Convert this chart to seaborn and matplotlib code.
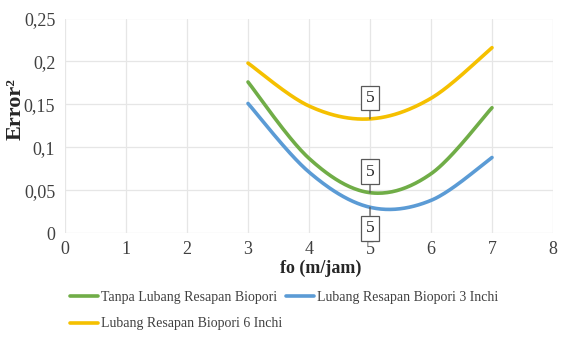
import numpy as np
import pandas as pd
import matplotlib
matplotlib.use("Agg")
import matplotlib.pyplot as plt
import seaborn as sns
from matplotlib.ticker import FuncFormatter, MultipleLocator
from matplotlib.lines import Line2D

# ---- data ----
fo = [3, 4, 5, 6, 7]
tanpa = [0.176, 0.087, 0.047, 0.069, 0.146]
lrb3 = [0.151, 0.071, 0.030, 0.038, 0.088]
lrb6 = [0.198, 0.148, 0.133, 0.157, 0.216]
series_names = ["Tanpa Lubang Resapan Biopori",
                "Lubang Resapan Biopori 3 Inchi",
                "Lubang Resapan Biopori 6 Inchi"]
colors = ["#70AD47", "#5B9BD5", "#F5C000"]
label_x = 5

sns.set_theme(style="white")
plt.rcParams['font.family'] = ['Liberation Serif', 'DejaVu Serif']


def smooth(xs, ys, n=40):
    # Excel-style smoothed line (cubic Bezier through each point)
    P = np.column_stack([xs, ys]).astype(float)
    out = []
    for i in range(len(P) - 1):
        p0 = P[i - 1] if i > 0 else P[i]
        p1, p2 = P[i], P[i + 1]
        p3 = P[i + 2] if i + 2 < len(P) else P[i + 1]
        c1 = p1 + (p2 - p0) / 6.0
        c2 = p2 - (p3 - p1) / 6.0
        t = np.linspace(0, 1, n)[:, None]
        seg = ((1 - t) ** 3) * p1 + 3 * ((1 - t) ** 2) * t * c1 + 3 * (1 - t) * t ** 2 * c2 + t ** 3 * p2
        out.append(seg if i == 0 else seg[1:])
    return np.vstack(out)


fig = plt.figure(figsize=(5.84, 3.47), dpi=100)
ax = fig.add_axes([65 / 584, 1 - 233 / 347, (553 - 65) / 584, (233 - 18.5) / 347])

frames = []
for name, ys in zip(series_names, [tanpa, lrb3, lrb6]):
    s = smooth(fo, ys)
    frames.append(pd.DataFrame({"x": s[:, 0], "y": s[:, 1], "series": name}))
df = pd.concat(frames, ignore_index=True)

sns.lineplot(data=df, x="x", y="y", hue="series", hue_order=series_names,
             palette=colors, sort=False, estimator=None,
             linewidth=2.6, ax=ax, legend=False)

ax.set_xlim(0, 8)
ax.set_ylim(0, 0.25)
ax.xaxis.set_major_locator(MultipleLocator(1))
ax.yaxis.set_major_locator(MultipleLocator(0.05))
ax.yaxis.set_major_formatter(FuncFormatter(lambda v, p: ("%g" % round(v, 2)).replace(".", ",")))
ax.grid(True, color="#E6E6E6", linewidth=0.9)
for sp in ax.spines.values():
    sp.set_visible(False)
ax.tick_params(axis="both", labelsize=13, colors="#404040", length=0)
ax.tick_params(axis="y", pad=7)
ax.tick_params(axis="x", pad=6)
ax.set_xlabel("fo (m/jam)", fontsize=13, fontweight="bold")
ax.set_ylabel("Error²", fontsize=16, fontweight="bold")
ax.xaxis.set_label_coords((321 - 65) / 488, (233 - 260) / 214.5)
ax.yaxis.set_label_coords((26 - 65) / 488, (233 - 109) / 214.5)

# callout labels
offsets = [21, -21, 21]
for name, ys, c, off in zip(series_names, [tanpa, lrb3, lrb6], colors, offsets):
    yv = ys[fo.index(label_x)]
    ax.annotate(str(label_x), xy=(label_x, yv), xytext=(0, off), textcoords="offset pixels",
                ha="center", va="center", fontsize=12.5, color="#262626",
                bbox=dict(boxstyle="square,pad=0.25", fc="white", ec="#595959", lw=0.9),
                arrowprops=dict(arrowstyle="-", color="#595959", lw=0.9, shrinkA=0, shrinkB=0))

# legend (Excel-like flow layout: two entries on row 1, one on row 2)
h = [Line2D([0], [0], color=c, lw=2.6) for c in colors]
common = dict(loc="center left", frameon=False, fontsize=10, handlelength=2.0,
              handletextpad=0.2, columnspacing=0.7, borderaxespad=0, borderpad=0)
leg1 = fig.legend(h[:2], series_names[:2], ncol=2,
                  bbox_to_anchor=(70 / 584, 1 - 297 / 347), **common)
leg2 = fig.legend(h[2:], series_names[2:], ncol=1,
                  bbox_to_anchor=(70 / 584, 1 - 324 / 347), **common)
for lg in (leg1, leg2):
    for t in lg.get_texts():
        t.set_color("#404040")

fig.savefig("out.png", dpi=100)
